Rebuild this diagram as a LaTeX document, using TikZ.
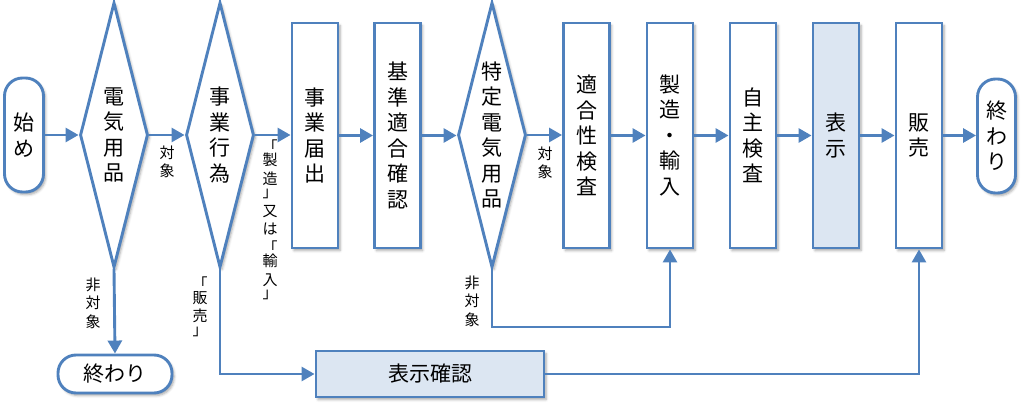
\documentclass[tikz,border=0pt]{standalone}
\usepackage{fontspec}
\newfontfamily\jp{Noto Sans CJK JP}
\usetikzlibrary{shapes.geometric,arrows.meta,shadows.blur}
\definecolor{lb}{RGB}{79,129,189}
\definecolor{fillb}{RGB}{220,230,242}
\begin{document}
\begin{tikzpicture}[x=1pt,y=-1pt,
 base/.style={draw=lb, line width=2.9pt, fill=white, font={\jp\fontsize{21}{25.5}\selectfont}, align=center, inner sep=0pt,
   blur shadow={shadow xshift=2pt, shadow yshift=-2.5pt, shadow blur radius=2.5pt, shadow opacity=35}},
 dec/.style={base, diamond, aspect=0.2566, minimum width=68pt, minimum height=265pt},
 proc/.style={base, rectangle, minimum width=46pt, minimum height=225pt},
 term/.style={base, rectangle, rounded corners=18pt},
 lab/.style={font={\jp\fontsize{15}{18.5}\selectfont}, align=center, inner sep=0pt},
 conn/.style={draw=lb, line width=2.9pt, -{Triangle[length=13pt,width=14pt]}}
]
\useasboundingbox (0,0) rectangle (1025,403);
\node[term, minimum width=39pt, minimum height=114pt] (start) at (24,135) {始\\め};
\node[dec] (d1) at (114,135) {電\\気\\用\\品};
\node[dec] (d2) at (220,135) {事\\業\\行\\為};
\node[proc] (r1) at (315,135.5) {事\\業\\届\\出};
\node[proc] (r2) at (397.5,135.5) {基\\準\\適\\合\\確\\認};
\node[dec] (d3) at (492,135) {特\\定\\電\\気\\用\\品};
\node[proc] (r3) at (586.5,135.5) {適\\合\\性\\検\\査};
\node[proc] (r4) at (670,135.5) {製\\造\\・\\輸\\入};
\node[proc] (r5) at (753,135.5) {自\\主\\検\\査};
\node[proc, fill=fillb] (r6) at (836,135.5) {表\\示};
\node[proc] (r7) at (919,135.5) {販\\売};
\node[term, minimum width=38pt, minimum height=114pt] (end1) at (996.5,136) {終\\わ\\り};
\node[term, minimum width=114pt, minimum height=38pt] (end2) at (115,374) {終わり};
\node[base, fill=fillb, minimum width=228pt, minimum height=46pt] (conf) at (430,374) {表示確認};

\node[lab] (l1) at (167,162) {対\\象};
\node[lab] (l2) at (93,303) {非\\対\\象};
\node[lab] (l3) at (545,163) {対\\象};
\node[lab] (l4) at (472,301) {非\\対\\象};
\node[lab] (l5) at (200,307) {「\\[-5pt]販\\売\\[-5pt]」};
\node[lab] (l6) at (270,220) {「\\[-5pt]製\\造\\[-5pt]」\\又\\は\\「\\[-5pt]輸\\入\\[-5pt]」};

\coordinate (nb) at (492,327);
\draw[conn] (start.east) -- (start.east -| d1.west);
\draw[conn] (d1.east) -- (d2.west);
\draw[conn] (d2.east) -- (d2.east -| r1.west);
\draw[conn] (r1.east) -- (r2.west);
\draw[conn] (r2.east) -- (r2.east -| d3.west);
\draw[conn] (d3.east) -- (d3.east -| r3.west);
\draw[conn] (r3.east) -- (r4.west);
\draw[conn] (r4.east) -- (r5.west);
\draw[conn] (r5.east) -- (r6.west);
\draw[conn] (r6.east) -- (r7.west);
\draw[conn] (r7.east) -- (r7.east -| end1.west);
\draw[conn] (d1.south) -- (end2.north);
\draw[conn] (d2.south) |- (conf.west);
\draw[conn] (conf.east) -| (r7.south);
\draw[conn] (d3.south) -- (nb) -| (r4.south);
\end{tikzpicture}
\end{document}
